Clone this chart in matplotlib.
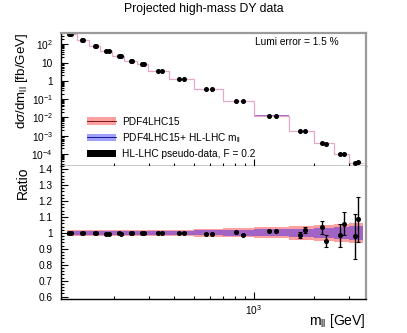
import numpy as np
import matplotlib
matplotlib.use('Agg')
import matplotlib.pyplot as plt
from matplotlib.patches import Patch
from matplotlib.lines import Line2D
from matplotlib.ticker import FixedLocator, FuncFormatter, LogLocator, MultipleLocator, NullFormatter

plt.rcParams['font.family'] = ['Liberation Sans', 'DejaVu Sans']
plt.rcParams['mathtext.fontset'] = 'custom'
plt.rcParams['mathtext.rm'] = 'Liberation Sans'
plt.rcParams['mathtext.it'] = 'Liberation Sans:italic'

# m_ll bin edges [GeV]
bin_edges = [116, 130, 150, 170, 195, 225, 260, 295, 375, 500, 700, 1000, 1500, 2000, 2500, 3000, 3500]
# PDF4LHC15 prediction dsigma/dm_ll [fb/GeV]
xsec = [380, 172, 84, 41.5, 23, 12.6, 8.3, 3.6, 1.22, 0.35, 0.08, 0.0125, 0.0018, 3.9e-4, 1.0e-4, 3.2e-5]
# relative PDF uncertainties (half widths) of the two bands
err_pdf4lhc = [0.018, 0.018, 0.018, 0.018, 0.018, 0.018, 0.018, 0.019, 0.020, 0.023,
               0.028, 0.035, 0.042, 0.050, 0.057, 0.064]
err_hllhc = [0.013, 0.013, 0.013, 0.013, 0.013, 0.013, 0.013, 0.014, 0.015, 0.016,
             0.018, 0.022, 0.027, 0.032, 0.038, 0.044]

# pseudo-data, two points per bin
mass_a = [119, 137.5, 160, 183, 211, 243, 275, 331, 423, 577, 816, 1193, 1698, 2188, 2692, 3210]
mass_b = [122, 140, 163, 188, 217, 247, 282, 347, 448, 617, 881, 1292, 1799, 2299, 2810, 3311]
ratio_a = [0.998, 1.0, 0.998, 0.996, 0.998, 1.0, 1.002, 1.0, 1.0, 0.996, 1.006, 1.015, 0.985, 1.034, 0.985, 0.979]
ratio_b = [0.997, 0.999, 0.998, 0.996, 0.995, 1.0, 0.998, 1.0, 0.999, 0.996, 0.990, 1.011, 1.019, 0.950, 1.059, 1.086]
rerr_a = [0.002, 0.002, 0.002, 0.002, 0.002, 0.002, 0.002, 0.002, 0.002, 0.002, 0.004, 0.006, 0.019, 0.040, 0.074, 0.140]
rerr_b = [0.002, 0.002, 0.002, 0.002, 0.002, 0.002, 0.002, 0.002, 0.002, 0.002, 0.004, 0.006, 0.019, 0.038, 0.075, 0.142]

edges = np.array(bin_edges, dtype=float)
xs = np.array(xsec)
e1 = np.array(err_pdf4lhc)
e2 = np.array(err_hllhc)

pink = '#ffa0a0'
purple = '#a264c4'
blue = '#a0a0ff'
frame_gray = '#9a9a9a'

fig = plt.figure(figsize=(4.07, 3.33), dpi=100)
ax = fig.add_axes([0.150, 0.5015, 0.749, 0.3995])
rx = fig.add_axes([0.150, 0.102, 0.749, 0.3995])

# ---- top panel
ax.stairs(xs * (1 + e1), edges, baseline=xs * (1 - e1), fill=True, color=pink, lw=0)
ax.stairs(xs * (1 + e2), edges, baseline=xs * (1 - e2), fill=True, color=purple, lw=0)
ax.stairs(xs, edges, color='#e6a8c8', lw=0.9, baseline=None)
ax.plot(mass_a, xs * np.array(ratio_a), 'o', color='black', ms=2.6)
ax.plot(mass_b, xs * np.array(ratio_b), 'o', color='black', ms=2.6)

ax.set_xscale('log')
ax.set_yscale('log')
ax.set_xlim(108.5, 3630)
ax.set_ylim(2.2e-5, 415)

ylab = {1e-4: r'$10^{-4}$', 1e-3: r'$10^{-3}$', 1e-2: r'$10^{-2}$', 1e-1: r'$10^{-1}$',
        1: '1', 10: '10', 100: r'$10^{2}$'}
ax.yaxis.set_major_locator(FixedLocator(list(ylab.keys())))
ax.yaxis.set_major_formatter(FuncFormatter(lambda v, p: ylab.get(round(v, 6) if v < 1 else round(v), '')))
ax.yaxis.set_minor_locator(LogLocator(base=10, subs=np.arange(2, 10), numticks=30))
ax.yaxis.set_minor_formatter(NullFormatter())

ax.text(0.635, 0.93, 'Lumi error = 1.5 %', transform=ax.transAxes, fontsize=7.3,
        ha='left', va='center')

handles = [(Patch(facecolor=pink, edgecolor='none'), Line2D([], [], color='#600000', lw=0.6)),
           (Patch(facecolor=blue, edgecolor='none'), Line2D([], [], color='#000080', lw=0.6)),
           Patch(facecolor='black', edgecolor='none')]
labels = ['PDF4LHC15', r'PDF4LHC15+ HL-LHC m$_{\rm ll}$', 'HL-LHC pseudo-data, F = 0.2']
ax.legend(handles, labels, loc='upper left', bbox_to_anchor=(0.085, 0.37), frameon=False,
          fontsize=7.3, handlelength=2.9, handleheight=0.8, handletextpad=0.55,
          labelspacing=0.42, borderpad=0, borderaxespad=0)

# ---- ratio panel
rx.stairs(1 + e1, edges, baseline=1 - e1, fill=True, color=pink, lw=0)
rx.stairs(1 + e2, edges, baseline=1 - e2, fill=True, color=purple, lw=0)
rx.errorbar(mass_a, ratio_a, yerr=rerr_a, fmt='o', color='black', ms=2.6, elinewidth=1,
            capsize=1.5, capthick=0.8)
rx.errorbar(mass_b, ratio_b, yerr=rerr_b, fmt='o', color='black', ms=2.6, elinewidth=1,
            capsize=1.5, capthick=0.8)
rx.set_xscale('log')
rx.set_xlim(108.5, 3630)
rx.set_ylim(0.585, 1.42)
rx.yaxis.set_major_locator(MultipleLocator(0.1))
rx.yaxis.set_minor_locator(MultipleLocator(0.02))
rx.yaxis.set_major_formatter(FuncFormatter(lambda v, p: f'{v:.1f}'.rstrip('0').rstrip('.')))

for a in (ax, rx):
    a.xaxis.set_major_locator(FixedLocator([1000]))
    a.xaxis.set_minor_locator(FixedLocator([200, 300, 400, 500, 600, 700, 800, 900, 2000, 3000]))
    a.xaxis.set_minor_formatter(NullFormatter())
    a.tick_params(which='both', direction='in', top=False, right=False, labelsize=7.3, width=0.8)
    a.tick_params(which='major', length=5)
    a.tick_params(which='minor', length=2.5)
    a.tick_params(axis='y', pad=6)
    for s in ('left', 'bottom'):
        a.spines[s].set_color('black')
        a.spines[s].set_linewidth(1.0)
    for s in ('top', 'right'):
        a.spines[s].set_color(frame_gray)
        a.spines[s].set_linewidth(1.6)

ax.xaxis.set_major_formatter(NullFormatter())
rx.xaxis.set_major_formatter(FuncFormatter(lambda v, p: r'$10^{3}$'))
rx.tick_params(axis='x', pad=3)
rx.spines['top'].set_visible(False)

fig.text(0.5, 0.974, 'Projected high-mass DY data', fontsize=8.8, ha='center', va='center')
fig.text(0.055, 0.901, r'd$\sigma$/dm$_{\rm ll}$ [fb/GeV]', fontsize=9.6, rotation=90,
         ha='center', va='top')
fig.text(0.055, 0.5, 'Ratio', fontsize=10, rotation=90, ha='center', va='top')
fig.text(0.899, 0.036, r'm$_{\rm ll}$ [GeV]', fontsize=10, ha='right', va='center')

fig.savefig('out.png', dpi=100)
